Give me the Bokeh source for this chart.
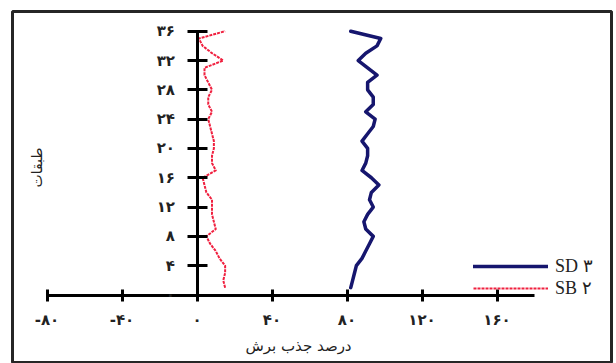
import math

from bokeh.embed import file_html
from bokeh.models import FixedTicker, Label, Legend
from bokeh.plotting import figure
from bokeh.resources import INLINE

# Storey numbers and shear absorption percentage of each system
floors = list(range(1, 37))
sd3 = [82, 83, 84, 85, 88, 90, 92, 94, 90, 89, 91, 94, 92, 93, 97, 93, 88, 90,
       91, 91, 88, 91, 94, 95, 90, 94, 94, 91, 91, 96, 91, 86, 90, 96, 98, 82]
sb2 = [15, 14, 15, 15, 12, 10, 7, 5, 10, 9, 8, 8, 8, 5, 4, 3, 10, 8,
       8, 9, 9, 8, 7, 6, 8, 6, 6, 8, 6, 4, 4, 14, 8, 3, 1, 15]

x_ticks = [-80, -40, 0, 40, 80, 120, 160]
y_ticks = [0, 4, 8, 12, 16, 20, 24, 28, 32, 36]

PERSIAN = str.maketrans("0123456789", "۰۱۲۳۴۵۶۷۸۹")


def fa(n):
    return str(n).translate(PERSIAN)


W, H = 616, 363
# the boxed drawing area: left, top and right edges in page pixels
BOX_L, BOX_T, BOX_R = 12, 11, 611
# pixel placement of the data origin and the scale of each axis
X0_PX, X_SCALE = 196.5, 1.875
Y0_PX, Y_SCALE = 294.5, 7.328


def dx(px):
    return (px - X0_PX) / X_SCALE


def dy(py):
    return (Y0_PX - py) / Y_SCALE


p = figure(width=W, height=H, output_backend="svg", toolbar_location=None,
           x_range=(dx(BOX_L), dx(BOX_R)), y_range=(dy(H), dy(BOX_T)),
           min_border_left=BOX_L, min_border_top=BOX_T,
           min_border_right=W - BOX_R, min_border_bottom=0)
p.grid.visible = False

# the chart's dark frame
p.outline_line_color = "#262626"
p.outline_line_width = 3
p.outline_line_alpha = 1.0

blue = p.line(sd3, floors, line_color="#16166e", line_width=3.5,
              line_join="round", line_cap="round")
red = p.line(sb2, floors, line_color="#f0203f", line_width=2,
             line_dash="3 1", line_join="round")

# axes crossing at the origin
xa = p.xaxis[0]
xa.fixed_location = 0
xa.bounds = (-80, 180)
xa.ticker = FixedTicker(ticks=x_ticks)
xa.major_label_overrides = {t: ("-" + fa(-t) if t < 0 else fa(t)) for t in x_ticks}
xa.minor_tick_line_color = None
xa.axis_line_width = 3
xa.major_tick_line_width = 3
xa.major_tick_in = 6
xa.major_tick_out = 6
xa.major_label_standoff = 10
xa.major_label_text_font = "DejaVu Sans"
xa.major_label_text_font_style = "bold"
xa.major_label_text_font_size = "15px"
xa.major_label_text_color = "#222222"

ya = p.yaxis[0]
ya.fixed_location = 0
ya.bounds = (0, 36)
ya.ticker = FixedTicker(ticks=y_ticks)
ya.major_label_overrides = {t: fa(t) for t in y_ticks}
ya.minor_tick_line_color = None
ya.axis_line_width = 3
ya.major_tick_line_width = 3
ya.major_tick_in = 10
ya.major_tick_out = 10
ya.major_label_standoff = 12
ya.major_label_text_align = "center"
ya.major_label_orientation = "horizontal"
ya.major_label_text_font = "DejaVu Sans"
ya.major_label_text_font_style = "bold"
ya.major_label_text_font_size = "15px"
ya.major_label_text_color = "#222222"

# axis titles
p.add_layout(Label(x=dx(298), y=dy(345), text="درصد جذب برش",
                   text_align="center", text_baseline="middle",
                   text_font="DejaVu Sans", text_font_size="15px", text_color="#222222"))
p.add_layout(Label(x=dx(36), y=dy(167), text="طبقات", angle=math.pi / 2,
                   text_align="center", text_baseline="middle",
                   text_font="DejaVu Sans", text_font_size="14px", text_color="#222222"))

legend = Legend(items=[("SD ۳", [blue]), ("SB ۲", [red])],
                location=(473 - BOX_L, H - 299), orientation="vertical",
                glyph_width=75, glyph_height=22, label_height=22, label_standoff=7,
                spacing=0, padding=0, margin=0,
                label_text_font="Liberation Serif", label_text_font_size="18px",
                label_text_baseline="alphabetic", label_text_color="#222222",
                background_fill_alpha=0, border_line_alpha=0)
p.add_layout(legend)

open("out.html", "w").write(file_html(p, INLINE))
